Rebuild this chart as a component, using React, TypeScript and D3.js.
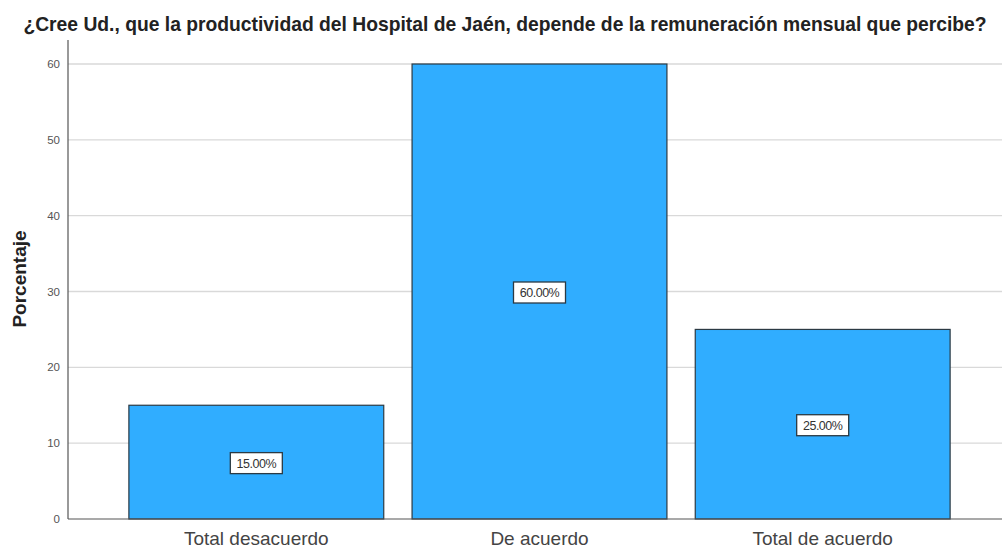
import React, { useEffect, useRef } from "react";
import * as d3 from "d3";

const categories = ["Total desacuerdo", "De acuerdo", "Total de acuerdo"];
const values = [15, 60, 25];
const yTicks = [0, 10, 20, 30, 40, 50, 60];
const title =
  "¿Cree Ud., que la productividad del Hospital de Jaén, depende de la remuneración mensual que percibe?";

const width = 1002;
const height = 549;
const font = "'Liberation Sans', Arial, sans-serif";

const App = () => {
  const ref = useRef<SVGSVGElement>(null);

  useEffect(() => {
    const svg = d3.select(ref.current);
    svg.selectAll("*").remove();

    const x = d3
      .scaleBand<string>()
      .domain(categories)
      .range([68, 1011])
      .paddingInner(0.1)
      .paddingOuter(0.215);
    const y = d3.scaleLinear().domain([0, 60]).range([519, 64]);

    // gridlines
    svg
      .append("g")
      .selectAll("line")
      .data(yTicks.filter(d => d > 0))
      .join("line")
      .attr("x1", 68)
      .attr("x2", width)
      .attr("y1", d => y(d))
      .attr("y2", d => y(d))
      .attr("stroke", "#d9d9d9")
      .attr("stroke-width", 1.3);

    // tick labels
    svg
      .append("g")
      .selectAll("text")
      .data(yTicks)
      .join("text")
      .attr("x", 60)
      .attr("y", d => y(d))
      .attr("dy", "0.35em")
      .attr("text-anchor", "end")
      .attr("font-family", font)
      .attr("font-size", 11.5)
      .attr("fill", "#555")
      .text(d => d);

    // bars
    svg
      .append("g")
      .selectAll("rect")
      .data(values)
      .join("rect")
      .attr("x", (d, i) => x(categories[i])!)
      .attr("y", d => y(d))
      .attr("width", x.bandwidth())
      .attr("height", d => y(0) - y(d))
      .attr("fill", "#30adff")
      .attr("stroke", "#2b3a44")
      .attr("stroke-width", 1.2);

    // axes lines
    svg
      .append("line")
      .attr("x1", 68)
      .attr("x2", 68)
      .attr("y1", 40)
      .attr("y2", 519)
      .attr("stroke", "#555")
      .attr("stroke-width", 1.2);
    svg
      .append("line")
      .attr("x1", 68)
      .attr("x2", width)
      .attr("y1", 519)
      .attr("y2", 519)
      .attr("stroke", "#555")
      .attr("stroke-width", 1.2);

    // value labels
    const lab = svg
      .append("g")
      .selectAll("g")
      .data(values)
      .join("g")
      .attr(
        "transform",
        (d, i) =>
          `translate(${x(categories[i])! + x.bandwidth() / 2},${(y(d) + y(0)) / 2 + 1})`
      );
    lab
      .append("rect")
      .attr("x", -26)
      .attr("y", -10.5)
      .attr("width", 52)
      .attr("height", 21)
      .attr("fill", "#fff")
      .attr("stroke", "#2b3a44")
      .attr("stroke-width", 1.3);
    lab
      .append("text")
      .attr("text-anchor", "middle")
      .attr("dy", "0.36em")
      .attr("font-family", font)
      .attr("font-size", 12.5)
      .attr("letter-spacing", -0.5)
      .attr("fill", "#333")
      .text(d => d.toFixed(2) + "%");

    // category labels
    svg
      .append("g")
      .selectAll("text")
      .data(categories)
      .join("text")
      .attr("x", d => x(d)! + x.bandwidth() / 2)
      .attr("y", 545)
      .attr("text-anchor", "middle")
      .attr("font-family", font)
      .attr("font-size", 19)
      .attr("fill", "#444")
      .text(d => d);

    // y title
    svg
      .append("text")
      .attr("transform", `translate(26,279) rotate(-90)`)
      .attr("text-anchor", "middle")
      .attr("font-family", font)
      .attr("font-size", 19)
      .attr("font-weight", "bold")
      .attr("fill", "#222")
      .text("Porcentaje");

    // title
    svg
      .append("text")
      .attr("x", 505)
      .attr("y", 31)
      .attr("text-anchor", "middle")
      .attr("font-family", font)
      .attr("font-size", 19.3)
      .attr("font-weight", "bold")
      .attr("fill", "#222")
      .text(title);
  }, []);

  return (
    <svg
      ref={ref}
      width={width}
      height={height}
      style={{ position: "absolute", left: 0, top: 0, background: "#fff" }}
    ></svg>
  );
};

export default App;
